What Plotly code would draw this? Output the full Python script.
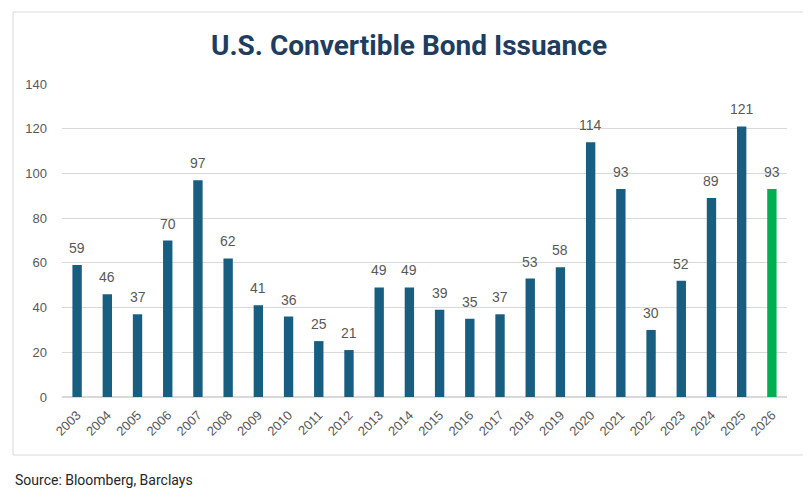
import plotly.graph_objects as go

years = [str(y) for y in range(2003, 2027)]
issuance = [59, 46, 37, 70, 97, 62, 41, 36, 25, 21, 49, 49, 39, 35, 37, 53, 58, 114, 93, 30, 52, 89, 121, 93]
y_ticks = [0, 20, 40, 60, 80, 100, 120, 140]

blue = "#175e80"
green = "#00b050"
colors = [blue] * (len(years) - 1) + [green]

fig = go.Figure(go.Bar(
    x=years, y=issuance, marker_color=colors, marker_line_width=0,
    width=0.31, cliponaxis=False,
))

# page body has an 8px margin; positions below are in figure coordinates
OFF = 8
W, H = 811, 498
L = 62 - OFF
R = W - (787 - OFF)
T = 84 - OFF
B = H - (397 - OFF)
pw, ph = W - L - R, H - T - B

def px_x(px):
    return (px - OFF - L) / pw

def px_y(py):
    return (H - B - (py - OFF)) / ph

annotations = [dict(x=i, y=v, text=str(v), xref="x", yref="y", showarrow=False,
                    yanchor="bottom", yshift=7,
                    font=dict(family="Liberation Sans, Arial", size=14, color="#595959"))
               for i, v in enumerate(issuance)]
annotations.append(dict(text="Source: Bloomberg, Barclays", xref="paper", yref="paper",
                        x=px_x(13), y=px_y(480), xanchor="left", yanchor="middle", showarrow=False,
                        font=dict(family="Roboto, Arial", size=14, color="#262626")))

fig.update_layout(
    width=W, height=H,
    margin=dict(l=L, r=R, t=T, b=B, autoexpand=False),
    paper_bgcolor="white", plot_bgcolor="white",
    showlegend=False,
    title=dict(text="<b>U.S. Convertible Bond Issuance</b>", x=(409 - OFF) / W, xanchor="center",
               y=1 - (45 - OFF) / H, yanchor="middle", yref="container", automargin=False,
               font=dict(family="Roboto, Arial", size=28, color="#1f3d5f")),
    xaxis=dict(type="category", tickangle=-45, showgrid=False, showline=False, ticks="",
               automargin=False, ticklabelstandoff=7,
               tickfont=dict(family="Liberation Sans, Arial", size=13, color="#595959"),
               range=[-0.5, len(years) - 0.5]),
    yaxis=dict(range=[0, 140], tickvals=y_ticks, showgrid=True, gridcolor="#d9d9d9",
               gridwidth=1, zeroline=True, zerolinecolor="#d9d9d9", showline=False, ticks="",
               ticklabelstandoff=14, automargin=False,
               tickfont=dict(family="Liberation Sans, Arial", size=13, color="#595959")),
    shapes=[dict(type="rect", xref="paper", yref="paper",
                 x0=px_x(13), x1=px_x(805), y0=px_y(455), y1=px_y(12),
                 line=dict(color="#d9d9d9", width=1), fillcolor="rgba(0,0,0,0)", layer="below")],
    annotations=annotations,
)

fig.write_html("out.html")
